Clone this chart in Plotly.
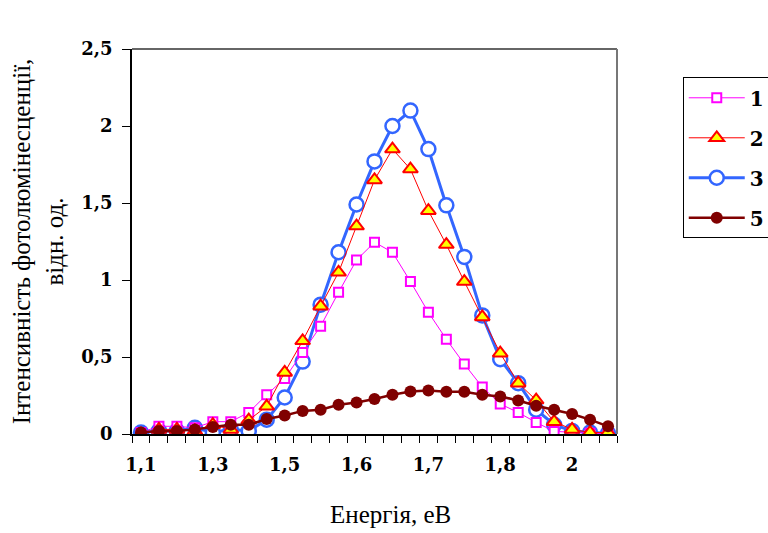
import plotly.graph_objects as go

# category positions (evenly spaced energy points) and tick labels
point_index = list(range(27))
tick_index = [0, 4, 8, 12, 16, 20, 24]
tick_labels = ["1,1", "1,3", "1,5", "1,6", "1,7", "1,8", "2"]

series_1 = [0.01, 0.05, 0.05, 0.04, 0.08, 0.08, 0.14, 0.255, 0.36, 0.53, 0.70, 0.92, 1.13, 1.245,
            1.18, 0.99, 0.79, 0.615, 0.454, 0.305, 0.195, 0.14, 0.075, 0.017, 0.01, 0.005, 0.0]
series_2 = [0.0, 0.03, 0.03, 0.02, 0.06, 0.03, 0.09, 0.18, 0.40, 0.605, 0.83, 1.05, 1.35, 1.65,
            1.85, 1.72, 1.45, 1.23, 0.99, 0.76, 0.525, 0.33, 0.22, 0.08, 0.03, 0.01, 0.01]
series_3 = [0.01, 0.02, 0.02, 0.04, 0.01, 0.03, 0.02, 0.093, 0.237, 0.47, 0.84, 1.18, 1.49, 1.77,
            2.00, 2.10, 1.85, 1.485, 1.15, 0.77, 0.486, 0.33, 0.158, 0.06, 0.02, 0.01, 0.005]
series_5 = [0.01, 0.02, 0.02, 0.03, 0.045, 0.06, 0.06, 0.097, 0.12, 0.15, 0.157, 0.19, 0.205, 0.227,
            0.255, 0.276, 0.283, 0.275, 0.275, 0.255, 0.244, 0.218, 0.183, 0.157, 0.13, 0.093, 0.05]

fig = go.Figure()

fig.add_trace(go.Scatter(
    x=point_index, y=series_3, name="3", mode="lines+markers", legendrank=3, legendgroup="3",
    line=dict(color="#3366FF", width=3),
    marker=dict(symbol="circle", size=14, color="white", line=dict(color="#3366FF", width=2.5)),
))
fig.add_trace(go.Scatter(
    x=point_index, y=series_1, name="1", mode="lines+markers", legendrank=1, legendgroup="1",
    line=dict(color="#FF00FF", width=1),
    marker=dict(symbol="square", size=9, color="white", line=dict(color="#FF00FF", width=2)),
))
fig.add_trace(go.Scatter(
    x=point_index, y=series_2, name="2", mode="lines+markers", legendrank=2, legendgroup="2",
    line=dict(color="#FF0000", width=1),
    marker=dict(symbol="triangle-up", size=13, color="#FFFF00", line=dict(color="#FF0000", width=2)),
))
fig.add_trace(go.Scatter(
    x=point_index, y=series_5, name="5", mode="lines+markers", legendrank=4, legendgroup="5",
    line=dict(color="#800000", width=2.5),
    marker=dict(symbol="circle", size=12, color="#800000"),
))

tick_font = dict(family="DejaVu Serif", size=18, color="black", weight="bold")
title_font = dict(family="Liberation Serif", size=25, color="black")

fig.update_layout(
    width=768, height=533,
    margin=dict(l=132, r=151, t=49, b=99, autoexpand=False),
    paper_bgcolor="white", plot_bgcolor="white",
    showlegend=True,
    legend=dict(
        xref="container", yref="container", x=0.889, y=0.855, xanchor="left", yanchor="top",
        bordercolor="black", borderwidth=1, bgcolor="white",
        font=dict(family="DejaVu Serif", size=20, color="black", weight="bold"),
        tracegroupgap=11, itemwidth=56,
    ),
    xaxis=dict(
        range=[-0.5, 26.5], tickmode="array", tickvals=tick_index, ticktext=tick_labels,
        ticks="", showgrid=False, zeroline=False,
        showline=True, linecolor="black", linewidth=1.5,
        minor=dict(tickmode="linear", tick0=0.5, dtick=1, ticks="outside", ticklen=7,
                   tickcolor="black", tickwidth=1, showgrid=False),
        tickfont=tick_font, ticklabelstandoff=14,
    ),
    yaxis=dict(
        range=[0, 2.5], tickmode="array", tickvals=[0, 0.5, 1, 1.5, 2, 2.5],
        ticktext=["0", "0,5", "1", "1,5", "2", "2,5"],
        ticks="outside", ticklen=8, tickcolor="black", tickwidth=1,
        showgrid=False, zeroline=False,
        showline=True, linecolor="black", linewidth=1.5,
        tickfont=tick_font, ticklabelstandoff=6,
        title=dict(text="Інтенсивність фотолюмінесценції,<br>відн. од.", font=title_font, standoff=11),
    ),
    annotations=[
        dict(text="Енергія, еВ", xref="paper", yref="paper", x=0.534, y=-0.208,
             xanchor="center", yanchor="middle", showarrow=False, font=title_font),
    ],
    shapes=[
        dict(type="line", xref="paper", yref="paper", x0=0, x1=1, y0=1, y1=1,
             line=dict(color="#333333", width=1.5), layer="below"),
        dict(type="line", xref="paper", yref="paper", x0=1, x1=1, y0=0, y1=1,
             line=dict(color="#777777", width=2), layer="below"),
    ],
)

fig.write_html("out.html")
